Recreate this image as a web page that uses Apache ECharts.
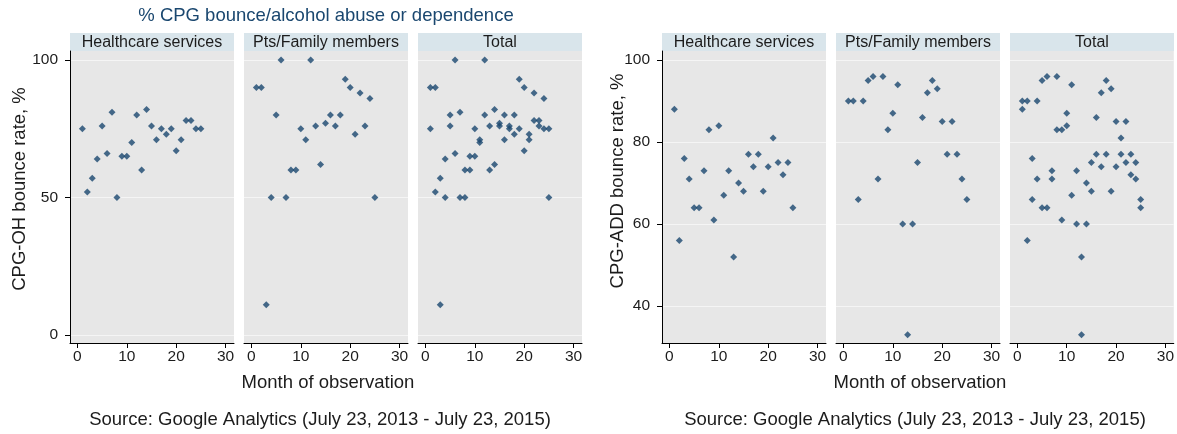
<!DOCTYPE html>
<html>
<head>
<meta charset="utf-8">
<title>CPG bounce rate by month of observation</title>
<script src="https://cdn.jsdelivr.net/npm/echarts@6/dist/echarts.min.js"></script>
<style>
  html, body { margin: 0; padding: 0; background: #ffffff; }
  #chart { width: 1177px; height: 434px; }
</style>
</head>
<body>
<div id="chart"></div>
<script>
// Month of observation (1..25)
const months = [1, 2, 3, 4, 5, 6, 7, 8, 9, 10, 11, 12, 13, 14, 15, 16, 17, 18, 19, 20, 21, 22, 23, 24, 25];

// CPG-OH (alcohol abuse or dependence) bounce rate, %
const ohHealthcare = [75, 52, 57, 64, 76, 66, 81, 50, 65, 65, 70, 80, 60, 82, 76, 71, 75, 73, 75, 67, 71, 78, 78, 75, 75];
const ohFamily     = [90, 90, 11, 50, 80, 100, 50, 60, 60, 75, 71, 100, 76, 62, 77, 80, 76, 80, 93, 90, 73, 88, 76, 86, 50];

// CPG-ADD bounce rate, %
const addHealthcare = [88, 56, 76, 71, 64, 64, 73, 83, 61, 84, 67, 73, 52, 70, 68, 77, 74, 77, 68, 74, 81, 75, 72, 75, 64];
const addFamily     = [90, 90, 66, 90, 95, 96, 71, 96, 83, 87, 94, 60, 33, 60, 75, 86, 92, 95, 93, 85, 77, 85, 77, 71, 66];

// Panel headings and tick labels
const panelTitles = ['Healthcare services', 'Pts/Family members', 'Total'];
const xTicks = [0, 10, 20, 30];
const ohTicks = [0, 50, 100];
const addTicks = [40, 60, 80, 100];

const titleText = '% CPG bounce/alcohol abuse or dependence';
const xTitleText = 'Month of observation';
const sourceText = 'Source: Google Analytics (July 23, 2013 - July 23, 2015)';

const FONT = '"Liberation Sans", Arial, Helvetica, sans-serif';
const NAVY = '#1a476f';
const INK = '#1c1c1c';
const PLOT_BG = '#e7e7e7';
const GRID_LINE = '#f5f5f5';
const STRIP_BG = '#d9e5eb';

const PANEL_W = 164;
const STRIP_TOP = 33;
const STRIP_H = 18;
const PLOT_TOP = STRIP_TOP + STRIP_H;
const PLOT_H = 292;

const toPoints = (vals) => months.map((m, i) => [m, vals[i]]);

const blocks = [
  {
    lefts: [70, 244, 418],
    yMin: -2.9, yMax: 103.3,
    ticks: ohTicks,
    healthcare: ohHealthcare,
    family: ohFamily,
    yTitle: 'CPG-OH bounce rate, %',
    yTitleX: 20,
    yTitleY: 189,
    xTitleX: 328,
    sourceX: 320,
    title: titleText
  },
  {
    lefts: [662, 836, 1010],
    yMin: 31.0, yMax: 102.2,
    ticks: addTicks,
    healthcare: addHealthcare,
    family: addFamily,
    yTitle: 'CPG-ADD bounce rate, %',
    yTitleX: 618,
    yTitleY: 181,
    xTitleX: 920,
    sourceX: 915,
    title: null
  }
];

const grid = [], xAxis = [], yAxis = [], series = [], graphic = [];

blocks.forEach((b) => {
  const panelData = [
    toPoints(b.healthcare),
    toPoints(b.family),
    toPoints(b.healthcare).concat(toPoints(b.family))
  ];
  b.lefts.forEach((left, p) => {
    const idx = grid.length;
    grid.push({
      left: left, top: PLOT_TOP, width: PANEL_W, height: PLOT_H,
      show: true, backgroundColor: PLOT_BG, borderWidth: 0
    });
    xAxis.push({
      type: 'value', gridIndex: idx, min: -1.5, max: 31.7,
      axisLine: { show: true, onZero: false, lineStyle: { color: '#000', width: 1 } },
      axisTick: { show: true, inside: false, length: 5, customValues: xTicks, lineStyle: { color: '#000' } },
      axisLabel: { show: true, margin: 6, customValues: xTicks, fontSize: 15.5, fontFamily: FONT, color: INK },
      splitLine: { show: false }
    });
    const first = p === 0;
    yAxis.push({
      type: 'value', gridIndex: idx, min: b.yMin, max: b.yMax,
      axisLine: { show: first, onZero: false, lineStyle: { color: '#000', width: 1 } },
      axisTick: { show: first, inside: false, length: 5, customValues: b.ticks, lineStyle: { color: '#000' } },
      axisLabel: { show: first, margin: 12, customValues: b.ticks, fontSize: 15.5, fontFamily: FONT, color: INK },
      splitLine: { show: true, lineStyle: { color: GRID_LINE, width: 1 } }
    });
    series.push({
      type: 'scatter', xAxisIndex: idx, yAxisIndex: idx,
      symbol: 'diamond', symbolSize: 7,
      itemStyle: { color: NAVY },
      silent: true,
      data: panelData[p]
    });
    // panel strip with heading
    graphic.push({
      type: 'rect', silent: true,
      shape: { x: left, y: STRIP_TOP, width: PANEL_W, height: STRIP_H },
      style: { fill: STRIP_BG }
    });
    graphic.push({
      type: 'text', silent: true, x: left + PANEL_W / 2, y: STRIP_TOP + STRIP_H / 2 + 0.5,
      style: { text: panelTitles[p], fontSize: 16, fontFamily: FONT, fill: INK, align: 'center', verticalAlign: 'middle' }
    });
  });

  // y axis title
  graphic.push({
    type: 'text', silent: true, x: b.yTitleX, y: b.yTitleY, rotation: Math.PI / 2,
    style: { text: b.yTitle, fontSize: 18.5, fontFamily: FONT, fill: INK, align: 'center', verticalAlign: 'middle' }
  });
  // x axis title
  graphic.push({
    type: 'text', silent: true, x: b.xTitleX, y: 383,
    style: { text: xTitleText, fontSize: 18.5, fontFamily: FONT, fill: INK, align: 'center', verticalAlign: 'middle' }
  });
  // source note
  graphic.push({
    type: 'text', silent: true, x: b.sourceX, y: 420,
    style: { text: sourceText, fontSize: 18.5, fontFamily: FONT, fill: INK, align: 'center', verticalAlign: 'middle' }
  });
  if (b.title) {
    graphic.push({
      type: 'text', silent: true, x: 326, y: 16,
      style: { text: b.title, fontSize: 18.5, fontFamily: FONT, fill: NAVY, align: 'center', verticalAlign: 'middle' }
    });
  }
});

const chart = echarts.init(document.getElementById('chart'), null, { renderer: 'canvas' });
chart.setOption({
  backgroundColor: '#ffffff',
  animation: false,
  textStyle: { fontFamily: FONT },
  grid, xAxis, yAxis, series, graphic
});
</script>
</body>
</html>
